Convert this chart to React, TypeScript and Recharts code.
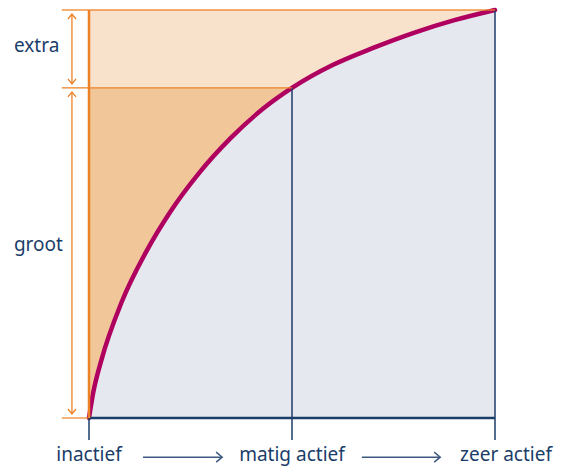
import { ComposedChart, Area, XAxis, YAxis, ReferenceLine } from 'recharts'

// activity level (0 = inactief, 100 = zeer actief) vs. health gain
const activity = [0, 1, 3, 8, 14, 20, 27, 35, 43, 50, 60, 70, 80, 90, 100]
const gain = [0, 6, 14, 28.3, 40.6, 50.5, 59.9, 68.7, 75.9, 80.9, 86.5, 90.7, 94.4, 97.5, 100]
const tickValues = [0, 50, 100]
const tickLabels = ['inactief', 'matig actief', 'zeer actief']
const bandLabels = ['extra', 'groot']

const topLevel = 100
const grootLevel = gain[activity.indexOf(50)]

const data = activity.map((a, i) => ({ a, gain: gain[i], top: topLevel, groot: grootLevel }))

const NAVY = '#1b3d6a'
const ORANGE = '#ec8125'
const FONT = '"Noto Sans", "Open Sans", sans-serif'

// vertical double arrow with label to the left
const BandArrow = (label: string, textShift: number) => (props: any) => {
  const { x1, y1, x2, y2 } = props
  const top = Math.min(y1, y2) + 4
  const bottom = Math.max(y1, y2) - 4
  const x = x1
  return (
    <g>
      <line x1={x} y1={top} x2={x2} y2={bottom} stroke={ORANGE} strokeWidth={1.3} />
      <polyline points={`${x - 4},${top + 5} ${x},${top} ${x + 4},${top + 5}`} fill="none" stroke={ORANGE} strokeWidth={1.3} />
      <polyline points={`${x - 4},${bottom - 5} ${x},${bottom} ${x + 4},${bottom - 5}`} fill="none" stroke={ORANGE} strokeWidth={1.3} />
      <text x={x - 58} y={(top + bottom) / 2 + textShift} fill={NAVY} fontSize={19} fontFamily={FONT}>{label}</text>
    </g>
  )
}

const RightArrow = (props: any) => {
  const { x1, y1, x2 } = props
  return (
    <g>
      <line x1={x1} y1={y1} x2={x2} y2={y1} stroke="#3d5a80" strokeWidth={1.5} />
      <polyline points={`${x2 - 6},${y1 - 5} ${x2},${y1} ${x2 - 6},${y1 + 5}`} fill="none" stroke="#3d5a80" strokeWidth={1.5} />
    </g>
  )
}

const Tick = (props: any) => {
  const { x, y, payload } = props
  const idx = tickValues.indexOf(payload.value)
  // last label sits a little right of its tick in the original
  const dx = idx === tickLabels.length - 1 ? 11 : 0
  return (
    <text x={x + dx} y={y + 19} textAnchor="middle" fill={NAVY} fontSize={19} fontFamily={FONT}>
      {tickLabels[idx]}
    </text>
  )
}

export default function App() {
  return (
    <div style={{ position: 'absolute', left: 0, top: 0 }}>
      <ComposedChart width={562} height={466} data={data} margin={{ top: 10, right: 67, bottom: 0, left: 89 }}>
        <XAxis
          dataKey="a"
          type="number"
          domain={[0, 100]}
          ticks={tickValues}
          tick={<Tick />}
          tickSize={22}
          tickLine={{ stroke: NAVY, strokeWidth: 1.5 }}
          axisLine={false}
          height={48}
          interval={0}
        />
        <YAxis hide domain={[0, 100]} type="number" />
        <Area dataKey="top" type="linear" stroke="none" fill="#f9e2cb" fillOpacity={1} isAnimationActive={false} />
        <Area dataKey="groot" type="linear" stroke="none" fill="#f1c699" fillOpacity={1} isAnimationActive={false} />
        <Area dataKey="gain" type="monotone" stroke="none" fill="#e5e8ee" fillOpacity={1} isAnimationActive={false} />

        <ReferenceLine segment={[{ x: 50, y: 0 }, { x: 50, y: grootLevel }]} stroke={NAVY} strokeWidth={1.5} />
        <ReferenceLine segment={[{ x: 100, y: 0 }, { x: 100, y: topLevel }]} stroke={NAVY} strokeWidth={1.5} />
        <ReferenceLine segment={[{ x: 0, y: 0 }, { x: 100, y: 0 }]} stroke={NAVY} strokeWidth={2.5} />

        <ReferenceLine ifOverflow="visible" segment={[{ x: -6.7, y: topLevel }, { x: 100, y: topLevel }]} stroke={ORANGE} strokeWidth={1.5} strokeOpacity={0.85} />
        <ReferenceLine ifOverflow="visible" segment={[{ x: -6.7, y: grootLevel }, { x: 50, y: grootLevel }]} stroke={ORANGE} strokeWidth={1.2} />
        <ReferenceLine ifOverflow="visible" segment={[{ x: -6.7, y: 0 }, { x: 0, y: 0 }]} stroke={ORANGE} strokeWidth={1.2} />
        <ReferenceLine segment={[{ x: 0, y: 0 }, { x: 0, y: topLevel }]} stroke={ORANGE} strokeWidth={2.5} />

        <ReferenceLine ifOverflow="visible" segment={[{ x: -4.2, y: topLevel }, { x: -4.2, y: grootLevel }]} shape={BandArrow(bandLabels[0], 3)} />
        <ReferenceLine ifOverflow="visible" segment={[{ x: -4.2, y: grootLevel }, { x: -4.2, y: 0 }]} shape={BandArrow(bandLabels[1], -2)} />

        <ReferenceLine ifOverflow="visible" segment={[{ x: 13.3, y: -9.6 }, { x: 32.8, y: -9.6 }]} shape={RightArrow} />
        <ReferenceLine ifOverflow="visible" segment={[{ x: 67.2, y: -9.6 }, { x: 86.5, y: -9.6 }]} shape={RightArrow} />

        <Area dataKey="gain" type="monotone" stroke="#af0060" strokeWidth={4.5} strokeLinecap="round" fill="none" isAnimationActive={false} />
      </ComposedChart>
    </div>
  )
}
